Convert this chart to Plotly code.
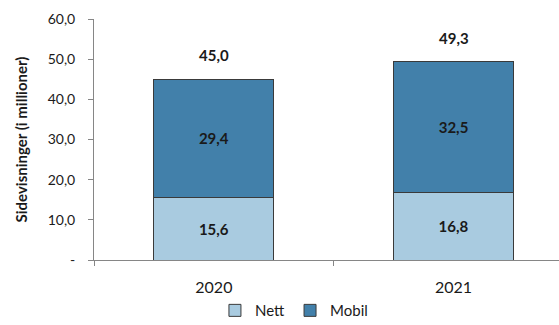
import plotly.graph_objects as go

# Sidevisninger per år, fordelt på plattform (millioner)
years = ["2020", "2021"]
nett = [15.6, 16.8]
mobil = [29.4, 32.5]
totals = [45.0, 49.3]

y_tickvals = [0, 10, 20, 30, 40, 50, 60]
y_ticktext = ["-", "10,0", "20,0", "30,0", "40,0", "50,0", "60,0"]

FONT = "Lato, 'Open Sans', sans-serif"
TEXT_COLOR = "#1a1a1a"
AXIS_COLOR = "#868686"
OUTLINE = "#3a3a3a"


def fmt(v):
    return f"{v:.1f}".replace(".", ",")


fig = go.Figure()

fig.add_trace(go.Bar(
    name="Nett", x=years, y=nett,
    marker=dict(color="#A9CBE0", line=dict(color=OUTLINE, width=1)),
    text=[fmt(v) for v in nett], textposition="inside",
    insidetextanchor="middle",
    textfont=dict(family=FONT, size=15, color=TEXT_COLOR, weight="bold"),
))
fig.add_trace(go.Bar(
    name="Mobil", x=years, y=mobil,
    marker=dict(color="#4280AA", line=dict(color=OUTLINE, width=1)),
    text=[fmt(v) for v in mobil], textposition="inside",
    insidetextanchor="middle",
    textfont=dict(family=FONT, size=15, color=TEXT_COLOR, weight="bold"),
))

# Totalverdi over hver stolpe (x som kategoriindeks)
for i, tot in enumerate(totals):
    fig.add_annotation(
        xref="x", yref="y", x=i, y=tot, text=f"<b>{fmt(tot)}</b>",
        showarrow=False, yanchor="bottom", yshift=13,
        font=dict(family=FONT, size=15, color=TEXT_COLOR),
    )

fig.update_layout(
    width=559, height=325,
    margin=dict(l=94, r=0, t=19, b=65, autoexpand=False),
    barmode="stack", bargap=0.5,
    separators=", ",
    plot_bgcolor="white", paper_bgcolor="white",
    font=dict(family=FONT, size=14, color=TEXT_COLOR),
    showlegend=True,
    legend=dict(
        orientation="h", x=0.43, xanchor="center", y=-0.21, yanchor="middle",
        font=dict(family=FONT, size=15, color=TEXT_COLOR),
        itemwidth=30, traceorder="normal",
    ),
    uniformtext=dict(mode="show", minsize=8),
)

fig.update_xaxes(
    type="category", range=[-0.5, 1.44],
    showline=True, linecolor=AXIS_COLOR, linewidth=1,
    ticks="outside", tickson="boundaries", ticklen=5, tickcolor=AXIS_COLOR,
    ticklabelstandoff=13,
    tickfont=dict(family=FONT, size=16, color=TEXT_COLOR),
    showgrid=False, zeroline=False,
)
fig.update_yaxes(
    range=[0, 60], tickvals=y_tickvals, ticktext=y_ticktext,
    showline=True, linecolor=AXIS_COLOR, linewidth=1,
    ticks="outside", ticklen=5, tickcolor=AXIS_COLOR,
    ticklabelstandoff=10,
    tickfont=dict(family=FONT, size=14, color=TEXT_COLOR),
    showgrid=False, zeroline=False,
    title=dict(text="<b>Sidevisninger (i millioner)</b>", standoff=16,
               font=dict(family=FONT, size=15, color=TEXT_COLOR)),
)

fig.write_html("out.html")
